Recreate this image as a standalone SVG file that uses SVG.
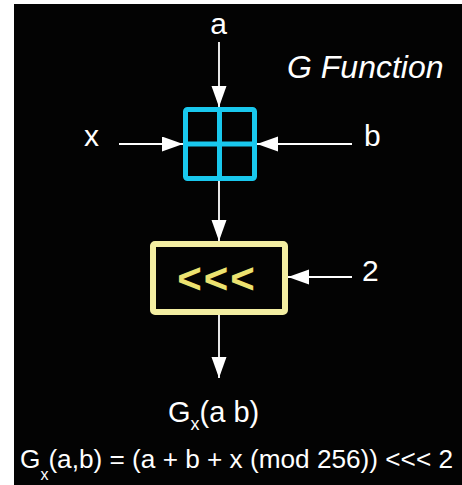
<svg xmlns="http://www.w3.org/2000/svg" width="462" height="485" viewBox="0 0 462 485">
  <style>
    .lbl { font-family: "Liberation Sans", Arial, sans-serif; fill: #ffffff; }
    .conn { stroke: #ffffff; stroke-width: 1.8; fill: none; }
  </style>
  <defs>
    <marker id="arr" markerUnits="userSpaceOnUse" markerWidth="22" markerHeight="16" refX="21" refY="7.5" orient="auto">
      <path d="M0,0 L21,7.5 L0,15 Z" fill="#ffffff"/>
    </marker>
  </defs>
  <rect x="0" y="0" width="462" height="485" fill="#ffffff"/>
  <rect x="14" y="4" width="448" height="481" fill="#030303"/>

  <g id="title">
    <text class="lbl" x="287" y="78" font-size="32" font-style="italic">G Function</text>
  </g>

  <g id="connectors">
    <line class="conn" x1="219" y1="42" x2="219" y2="107" marker-end="url(#arr)"/>
    <line class="conn" x1="119" y1="144" x2="183" y2="144" marker-end="url(#arr)"/>
    <line class="conn" x1="352" y1="144" x2="257" y2="144" marker-end="url(#arr)"/>
    <line class="conn" x1="219" y1="181" x2="219" y2="241" marker-end="url(#arr)"/>
    <line class="conn" x1="352" y1="277" x2="288" y2="277" marker-end="url(#arr)"/>
    <line class="conn" x1="219" y1="315" x2="219" y2="378" marker-end="url(#arr)"/>
  </g>

  <g id="input-a">
    <text class="lbl" x="218.5" y="34" font-size="30" text-anchor="middle">a</text>
  </g>
  <g id="input-x">
    <text class="lbl" x="91.5" y="146" font-size="30" text-anchor="middle">x</text>
  </g>
  <g id="input-b">
    <text class="lbl" x="364" y="146" font-size="30">b</text>
  </g>
  <g id="input-2">
    <text class="lbl" x="362" y="281" font-size="30">2</text>
  </g>

  <g id="adder">
    <rect x="185.5" y="109.5" width="69" height="69" rx="2" fill="none" stroke="#19c8ee" stroke-width="5"/>
    <line x1="219.5" y1="109.5" x2="219.5" y2="178.5" stroke="#19c8ee" stroke-width="5"/>
    <line x1="185.5" y1="144" x2="254.5" y2="144" stroke="#19c8ee" stroke-width="5"/>
  </g>

  <g id="rotate">
    <rect x="153" y="244" width="132" height="68" rx="2" fill="none" stroke="#f3eea2" stroke-width="6"/>
    <text x="217" y="293" font-family="'Liberation Sans', Arial, sans-serif" font-size="42" font-weight="bold" fill="#ece270" text-anchor="middle" letter-spacing="2">&lt;&lt;&lt;</text>
  </g>

  <g id="output">
    <text class="lbl" x="168" y="422" font-size="29">G<tspan font-size="18" dy="8">x</tspan><tspan dy="-8">(a b)</tspan></text>
  </g>

  <g id="formula">
    <text class="lbl" x="20" y="468" font-size="26.2">G<tspan font-size="16" dy="12">x</tspan><tspan dy="-12">(a,b) = (a + b + x (mod 256)) &lt;&lt;&lt; 2</tspan></text>
  </g>
</svg>
